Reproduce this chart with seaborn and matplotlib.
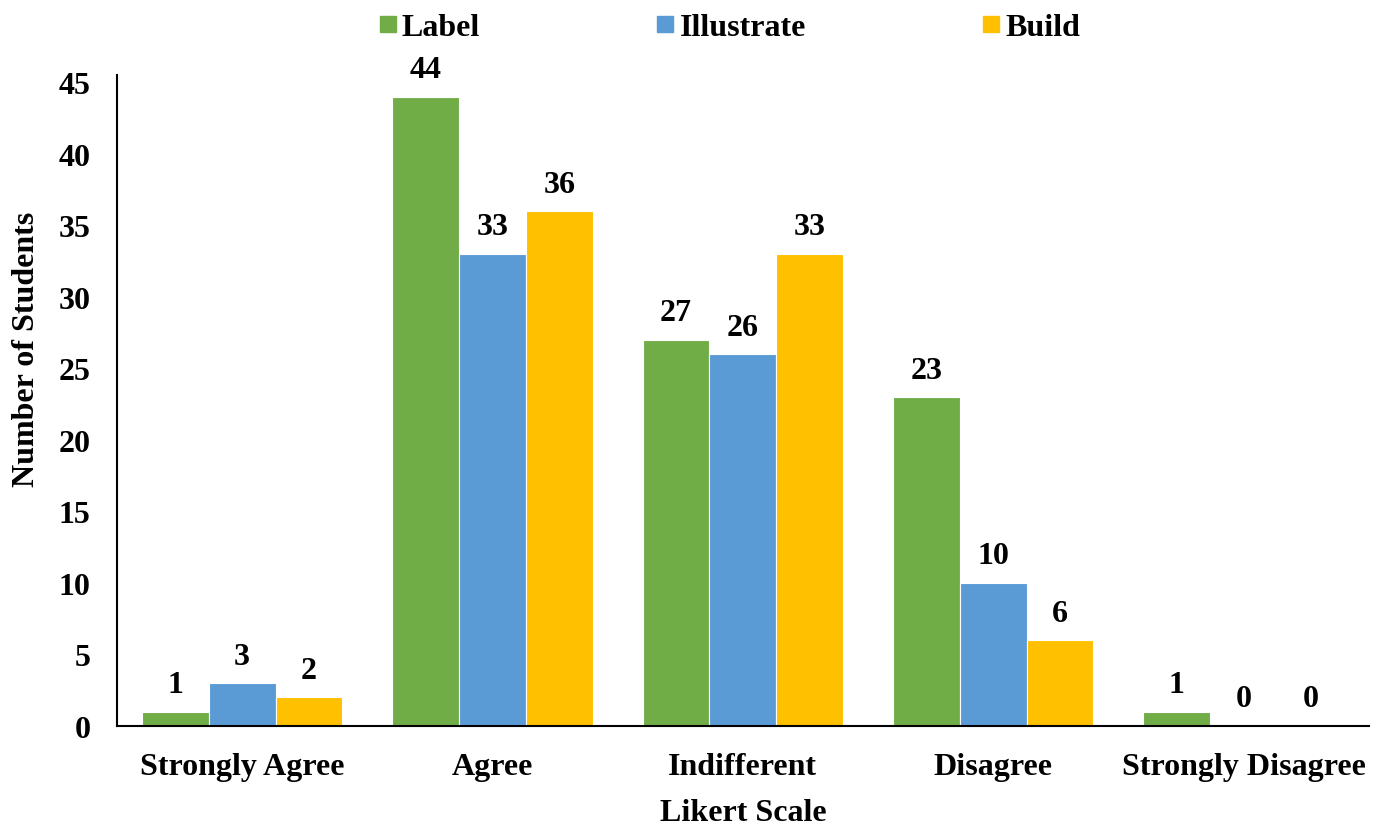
import matplotlib
matplotlib.use("Agg")
import matplotlib.pyplot as plt
from matplotlib.lines import Line2D
import seaborn as sns
import pandas as pd

categories = ["Strongly Agree", "Agree", "Indifferent", "Disagree", "Strongly Disagree"]
series = ["Label", "Illustrate", "Build"]
label_vals = [1, 44, 27, 23, 1]
illustrate_vals = [3, 33, 26, 10, 0]
build_vals = [2, 36, 33, 6, 0]
colors = ["#70AD47", "#5B9BD5", "#FFC000"]

df = pd.DataFrame({
    "Likert Scale": categories * 3,
    "Group": [s for s in series for _ in categories],
    "Number of Students": label_vals + illustrate_vals + build_vals,
})

sns.set_theme(style="white")
plt.rcParams["font.family"] = ["Liberation Serif", "DejaVu Serif"]
plt.rcParams["font.weight"] = "bold"
plt.rcParams["text.color"] = "black"
plt.rcParams["axes.labelcolor"] = "black"
plt.rcParams["xtick.color"] = "black"
plt.rcParams["ytick.color"] = "black"

FS = 23

fig = plt.figure(figsize=(13.84, 8.28), dpi=100)
ax = fig.add_axes([0.0845, 0.122, 0.9045, 0.786])

sns.barplot(data=df, x="Likert Scale", y="Number of Students", hue="Group",
            order=categories, hue_order=series, palette=colors, saturation=1,
            width=0.8, edgecolor="white", linewidth=0.8, ax=ax, legend=False)

for cont in ax.containers:
    ax.bar_label(cont, fmt="%d", padding=9, fontsize=FS, fontweight="bold",
                 color="black")

ax.set_ylim(0, 45.5)
ax.set_xlim(-0.5, 4.5)
ax.set_yticks(range(0, 46, 5))
ax.tick_params(axis="both", length=0, labelsize=FS)
ax.tick_params(axis="x", pad=19)
ax.tick_params(axis="y", pad=19)
for t in ax.get_xticklabels() + ax.get_yticklabels():
    t.set_fontweight("bold")
ax.set_xlabel("Likert Scale", fontsize=FS, fontweight="bold", labelpad=12)
ax.set_ylabel("Number of Students", fontsize=FS, fontweight="bold")
ax.yaxis.set_label_coords(-0.061, 0.58)

for side in ["top", "right"]:
    ax.spines[side].set_visible(False)
for side in ["left", "bottom"]:
    ax.spines[side].set_color("black")
    ax.spines[side].set_linewidth(1.5)

handles = [Line2D([], [], marker="s", linestyle="", markersize=11,
                  markerfacecolor=c, markeredgecolor=c) for c in colors]
fig.legend(handles, series, loc="center", bbox_to_anchor=(0.527, 0.966),
           ncol=3, frameon=False, columnspacing=5.5, handlelength=0.6,
           handletextpad=0.15, borderpad=0.1, prop={"size": FS, "weight": "bold"})

fig.savefig("out.png", dpi=100, facecolor="white")
